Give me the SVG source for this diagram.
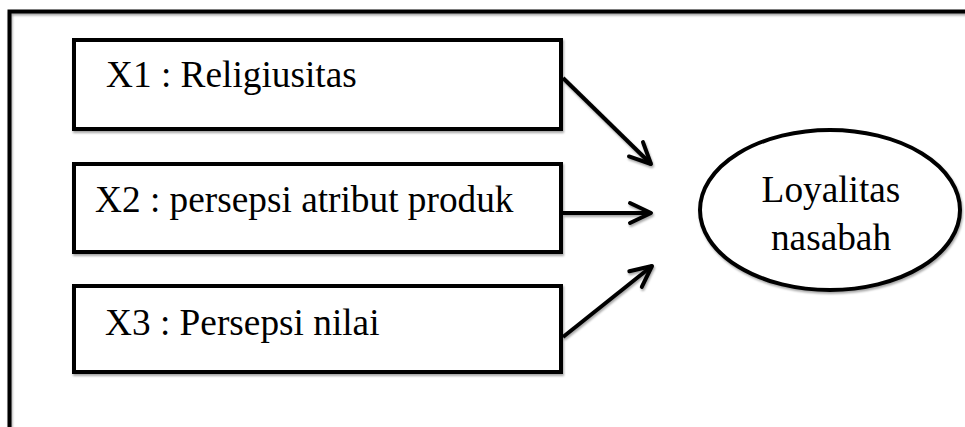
<svg xmlns="http://www.w3.org/2000/svg" width="965" height="427" viewBox="0 0 965 427">
  <defs>
    <filter id="sh" x="-5%" y="-5%" width="110%" height="120%">
      <feDropShadow dx="1" dy="2" stdDeviation="1" flood-color="#000" flood-opacity="0.35"/>
    </filter>
    <filter id="shu" filterUnits="userSpaceOnUse" x="0" y="0" width="965" height="427">
      <feDropShadow dx="1" dy="2" stdDeviation="1" flood-color="#000" flood-opacity="0.35"/>
    </filter>
    <marker id="arr" markerUnits="userSpaceOnUse" viewBox="-25 -14 30 28" markerWidth="30" markerHeight="28" refX="0" refY="0" orient="auto" overflow="visible">
      <path d="M-21,-10 L0,0 L-21,10" fill="none" stroke="#000" stroke-width="4" stroke-linecap="round" stroke-linejoin="round"/>
    </marker>
  </defs>
  <style>
    .box { fill: #fff; stroke: #000; stroke-width: 4; filter: url(#sh); }
    .lbl { font-family: "Liberation Serif", "Times New Roman", serif; font-size: 37.3px; fill: #000; }
    .conn { fill: none; stroke: #000; stroke-width: 4; marker-end: url(#arr); }
  </style>
  <rect width="965" height="427" fill="#fff"/>
  <g id="frame">
    <rect x="9.5" y="11.5" width="1000" height="500" fill="none" stroke="#000" stroke-width="4" filter="url(#shu)"/>
  </g>
  <g id="x1">
    <rect class="box" x="74" y="40" width="487" height="89"/>
    <text class="lbl" x="106" y="87">X1 : Religiusitas</text>
  </g>
  <g id="x2">
    <rect class="box" x="74" y="164" width="487" height="88"/>
    <text class="lbl" x="95" y="212">X2 : persepsi atribut produk</text>
  </g>
  <g id="x3">
    <rect class="box" x="74" y="286" width="487" height="86"/>
    <text class="lbl" x="105" y="335">X3 : Persepsi nilai</text>
  </g>
  <g id="y">
    <ellipse class="box" cx="830" cy="210" rx="130" ry="80"/>
    <text class="lbl" x="831" y="202" text-anchor="middle">Loyalitas</text>
    <text class="lbl" x="831" y="250" text-anchor="middle">nasabah</text>
  </g>
  <g id="connectors" filter="url(#shu)">
    <line class="conn" x1="563" y1="78" x2="651" y2="164"/>
    <line class="conn" x1="563" y1="213" x2="651" y2="213"/>
    <line class="conn" x1="563" y1="337" x2="652" y2="266"/>
  </g>
</svg>
